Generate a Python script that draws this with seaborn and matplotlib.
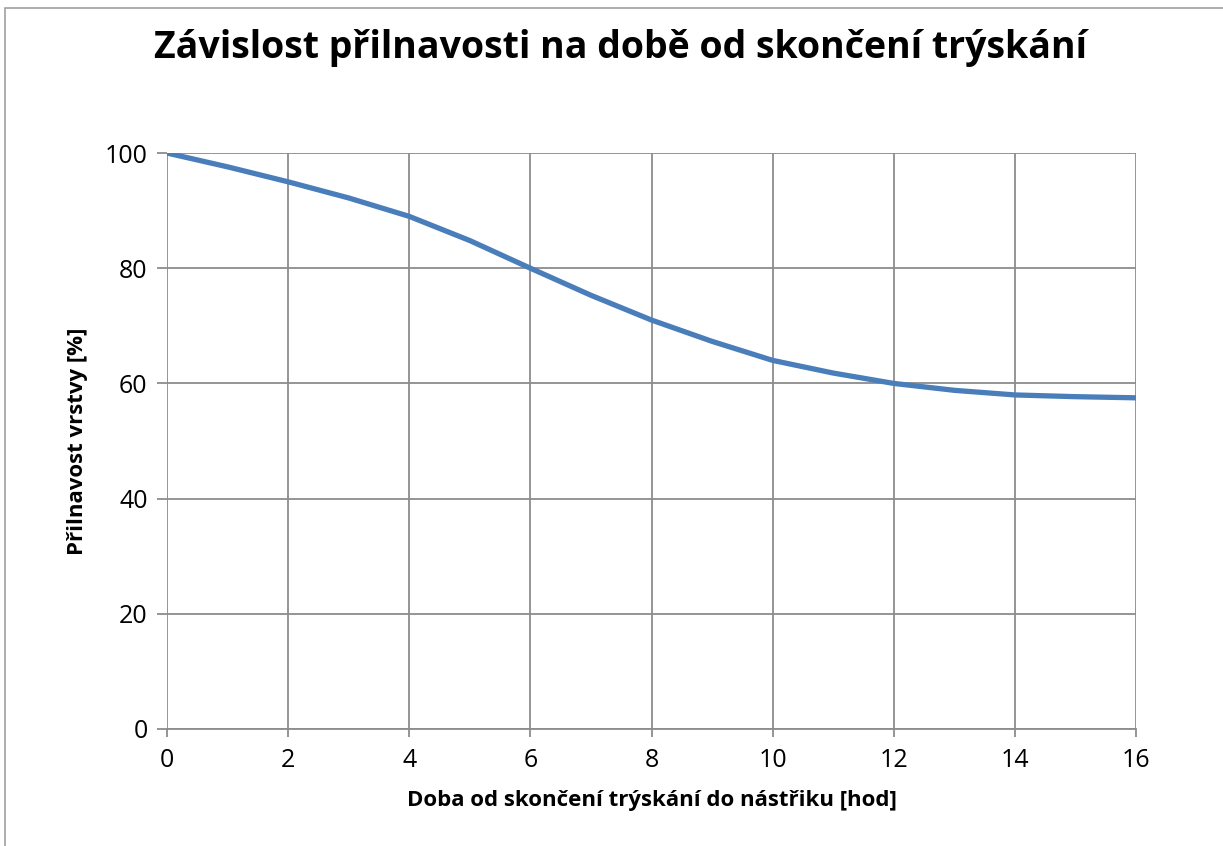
import numpy as np
import pandas as pd
import matplotlib.pyplot as plt
import seaborn as sns

# values (hours after blasting -> adhesion %)
hours = [0, 1, 2, 3, 4, 5, 6, 7, 8, 9, 10, 11, 12, 13, 14, 15, 16]
adhesion = [100, 97.6, 95.0, 92.2, 89.0, 84.8, 80.0, 75.3, 71.0, 67.3, 64.0, 61.8, 60.0, 58.8, 58.0, 57.7, 57.5]

x_ticks = [0, 2, 4, 6, 8, 10, 12, 14, 16]
y_ticks = [0, 20, 40, 60, 80, 100]

title = "Závislost přilnavosti na době od skončení trýskání"
x_label = "Doba od skončení trýskání do nástřiku [hod]"
y_label = "Přilnavost vrstvy [%]"

df = pd.DataFrame({"hod": hours, "prilnavost": adhesion})

sns.set_style("white")
plt.rcParams['font.family'] = ['Open Sans', 'DejaVu Sans']
plt.rcParams['text.color'] = 'black'
plt.rcParams['axes.labelcolor'] = 'black'
plt.rcParams['xtick.labelcolor'] = 'black'
plt.rcParams['ytick.labelcolor'] = 'black'

grid_col = '#8c8c8c'

fig = plt.figure(figsize=(12.23, 8.46), dpi=100)
ax = fig.add_axes([0.1366, 0.1383, 0.7923, 0.6808])

sns.lineplot(data=df, x="hod", y="prilnavost", ax=ax, color='#4a7ebb', linewidth=3.8,
             solid_capstyle='butt')

ax.set_xlim(0, 16)
ax.set_ylim(0, 100)
ax.set_xticks(x_ticks)
ax.set_yticks(y_ticks)
ax.grid(True, color=grid_col, linewidth=1.3)
ax.set_axisbelow(True)
for side in ['top', 'right', 'left']:
    ax.spines[side].set_visible(False)
ax.spines['bottom'].set_color(grid_col)
ax.spines['bottom'].set_linewidth(1.3)

ax.tick_params(axis='x', direction='out', length=6, width=1.3, color=grid_col,
               labelsize=18, pad=8, labelcolor='black')
ax.tick_params(axis='y', direction='out', length=7, width=1.3, color=grid_col,
               labelsize=18, pad=7, labelcolor='black')
ax.tick_params(left=True, bottom=True)

ax.set_xlabel(x_label, fontsize=16, fontweight='bold', labelpad=12, color='black')
ax.set_ylabel(y_label, fontsize=16, fontweight='bold', labelpad=12, color='black')

fig.text(0.507, 0.943, title, ha='center', va='center', fontsize=27,
         fontweight='bold', color='black')

# thin chart-area frame like the Excel export
fig.patches.append(plt.Rectangle((0.004, -0.01), 1.0, 1.0, transform=fig.transFigure,
                                 fill=False, edgecolor='#a0a0a0', linewidth=1.2))

fig.savefig("out.png", dpi=100)
